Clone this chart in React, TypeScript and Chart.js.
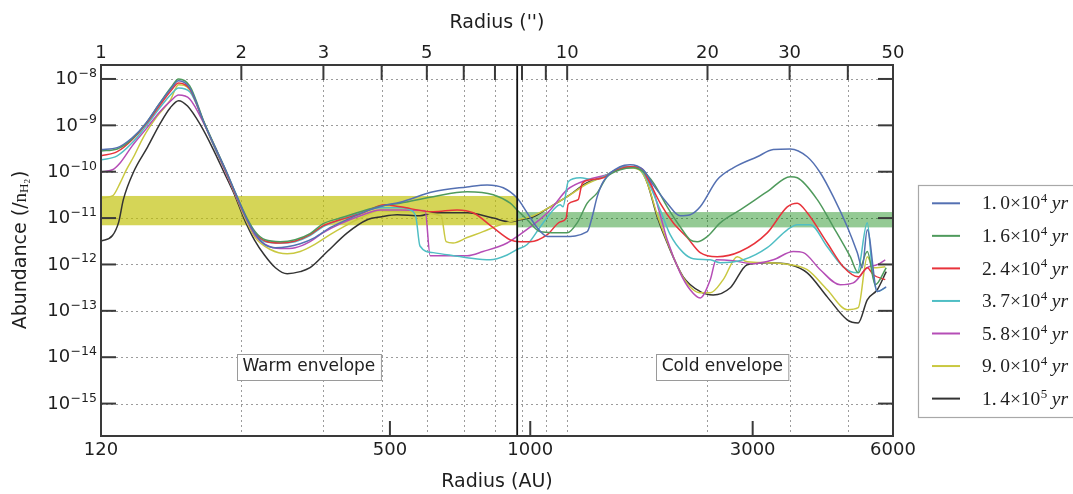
import React, { useEffect, useRef } from 'react';
import { Chart, registerables } from 'chart.js';

Chart.register(...registerables);

const W = 1073;
const H = 494;

// ---------- data (radius in AU, abundance relative to n_H2) ----------
const blueR = [120,130,140,150,160,170,176,186,200,211,223,234,246,257,269,284,301,321,345,372,411,453,488,526,619,732,808,875,937,985,1035,1088,1176,1325,1358,1392,1434,1559,1638,1747,1836,1967,2097,2203,2315,2518,2725,3069,3321,3612,3928,4189,4467,4787,5029,5154,5284,5551,5803];
const blueA = [3.0e-10,3.3e-10,5.4e-10,1.13e-9,2.9e-9,6.4e-9,9.1e-9,6.4e-9,1.08e-9,3.3e-10,1.0e-10,3.2e-11,1.0e-11,4.6e-12,2.7e-12,2.3e-12,2.4e-12,2.8e-12,3.8e-12,6.2e-12,1.0e-11,1.5e-11,1.9e-11,2.2e-11,3.7e-11,4.7e-11,5.2e-11,4.5e-11,2.7e-11,1.3e-11,6.2e-12,4.0e-12,4.0e-12,5.1e-12,1.07e-11,2.9e-11,6.1e-11,1.28e-10,1.41e-10,1.1e-10,5.2e-11,2.1e-11,1.12e-11,1.18e-11,1.75e-11,6.7e-11,1.21e-10,2.1e-10,3.0e-10,3.1e-10,2.1e-10,9.5e-11,2.9e-11,6.5e-12,1.8e-12,8.5e-13,5.6e-12,2.6e-13,3.3e-13];

const greenR = [120,130,140,150,160,170,176,186,200,211,223,234,246,257,270,291,313,337,359,391,432,476,526,619,732,833,906,937,985,1051,1200,1261,1325,1392,1462,1559,1663,1747,1836,1967,2097,2203,2281,2397,2556,2821,3224,3612,3740,4128,4467,4858,5054,5284,5496,5803];
const greenA = [2.8e-10,3.1e-10,5.1e-10,1.13e-9,2.9e-9,6.8e-9,1.0e-8,7.1e-9,1.13e-9,3.4e-10,1.0e-10,3.2e-11,1.07e-11,5.1e-12,3.4e-12,3.1e-12,3.4e-12,4.6e-12,7.5e-12,1.0e-11,1.37e-11,1.8e-11,2.1e-11,2.9e-11,3.7e-11,3.2e-11,2.1e-11,1.5e-11,9.2e-12,5.1e-12,4.8e-12,7.9e-12,2.1e-11,3.5e-11,7.8e-11,1.1e-10,1.21e-10,1.0e-10,5.8e-11,1.75e-11,6.5e-12,3.4e-12,3.1e-12,4.0e-12,7.9e-12,1.5e-11,3.7e-11,7.8e-11,7.4e-11,2.5e-11,6.5e-12,1.47e-12,6.6e-13,1.9e-12,3.65e-13,8.5e-13];

const redR = [120,130,140,150,160,170,176,186,200,211,223,234,246,257,270,291,313,337,359,391,432,488,526,619,697,754,833,906,951,1000,1088,1159,1194,1206,1267,1292,1345,1434,1506,1638,1722,1782,1900,2026,2171,2315,2518,2821,3224,3559,3740,3928,4336,4693,5054,5284,5443,5775];
const redA = [2.2e-10,2.7e-10,4.9e-10,1.08e-9,2.6e-9,5.8e-9,8.2e-9,6.1e-9,1.08e-9,3.3e-10,9.5e-11,3.0e-11,1.0e-11,4.8e-12,3.2e-12,2.9e-12,3.2e-12,4.4e-12,6.8e-12,9.2e-12,1.24e-11,1.94e-11,1.75e-11,1.37e-11,1.5e-11,1.3e-11,6.2e-12,3.4e-12,3.1e-12,3.1e-12,4.4e-12,8.3e-12,1.0e-11,2.0e-11,2.5e-11,5.5e-11,6.7e-11,7.4e-11,1.0e-10,1.28e-10,1.21e-10,7.4e-11,2.1e-11,7.9e-12,3.8e-12,1.8e-12,1.47e-12,1.9e-12,4.8e-12,1.75e-11,2.1e-11,1.3e-11,2.9e-12,8.9e-13,5.4e-13,8.5e-13,6.0e-13,4.7e-13];

const cyanR = [120,130,140,150,160,170,176,186,200,211,223,234,246,257,270,291,313,337,359,391,432,476,526,561,569,580,619,732,820,892,937,985,1051,1120,1159,1176,1206,1280,1365,1434,1559,1663,1747,1900,1996,2129,2237,2433,2556,2864,3224,3559,3740,3987,4336,4693,5029,5284,5416,5551,5775];
const cyanA = [1.8e-10,2.2e-10,4.2e-10,9.7e-10,2.3e-9,4.8e-9,6.4e-9,5.3e-9,1.08e-9,3.1e-10,9.5e-11,3.0e-11,1.0e-11,4.6e-12,3.1e-12,2.9e-12,3.1e-12,4.2e-12,6.5e-12,9.2e-12,1.3e-11,1.67e-11,1.67e-11,1.37e-11,1.0e-11,2.5e-12,1.8e-12,1.4e-12,1.26e-12,1.6e-12,2.1e-12,2.7e-12,6.5e-12,1.5e-11,1.94e-11,1.75e-11,6.1e-11,7.4e-11,6.7e-11,7.8e-11,1.21e-10,1.28e-10,9.5e-11,1.5e-11,4.4e-12,1.8e-12,1.33e-12,1.26e-12,1.09e-12,1.26e-12,2.3e-12,5.6e-12,7.2e-12,7.2e-12,2.4e-12,8.9e-13,6.6e-13,7.9e-12,7.7e-13,2.6e-13,3.15e-13];

const magentaR = [120,127,132,140,150,160,170,176,186,200,211,223,234,243,257,270,291,313,337,359,391,432,476,526,595,610,732,792,892,937,1015,1104,1200,1325,1462,1614,1722,1809,1900,1967,2097,2203,2315,2433,2506,2725,3009,3321,3666,3852,4189,4624,4931,5284,5551,5775];
const magentaA = [1.0e-10,1.1e-10,1.56e-10,3.6e-10,8.4e-10,1.9e-9,3.5e-9,4.5e-9,3.7e-9,1.03e-9,3.1e-10,9.0e-11,2.9e-11,1.24e-11,4.2e-12,2.7e-12,2.2e-12,2.3e-12,3.1e-12,4.8e-12,7.5e-12,1.12e-11,1.5e-11,1.5e-11,1.44e-11,1.54e-12,1.54e-12,1.9e-12,2.9e-12,4.0e-12,7.2e-12,1.5e-11,4.1e-11,6.7e-11,8.6e-11,1.28e-10,1.21e-10,6.1e-11,1.18e-11,3.4e-12,6.6e-13,2.85e-13,1.9e-13,4.7e-13,1.26e-12,1.2e-12,1.04e-12,1.26e-12,1.9e-12,1.8e-12,7.7e-13,3.65e-13,4.0e-13,8.5e-13,9.9e-13,1.26e-12];

const yellowR = [120,127,132,136,141,148,158,169,176,186,200,211,223,234,243,257,277,301,321,345,372,401,432,476,526,644,660,683,732,792,862,937,1015,1104,1200,1325,1434,1559,1638,1722,1782,1872,1967,2129,2315,2433,2594,2780,2921,3224,3612,3928,4336,4787,5054,5284,5443,5775];
const yellowA = [2.7e-11,3.0e-11,5.8e-11,1.1e-10,2.1e-10,5.6e-10,1.52e-9,3.5e-9,7.5e-9,5.8e-9,1.08e-9,3.1e-10,9.0e-11,2.9e-11,1.12e-11,3.8e-12,2.1e-12,1.7e-12,1.9e-12,2.7e-12,4.4e-12,6.8e-12,1.0e-11,1.44e-11,1.37e-11,1.12e-11,3.1e-12,2.9e-12,3.8e-12,5.1e-12,7.2e-12,9.2e-12,1.12e-11,1.75e-11,2.9e-11,5.5e-11,7.8e-11,1.15e-10,1.21e-10,1.05e-10,5.8e-11,1.18e-11,3.1e-12,5.2e-13,2.45e-13,2.45e-13,4.7e-13,1.47e-12,1.14e-12,1.09e-12,9.9e-13,7.7e-13,2.85e-13,1.06e-13,1.17e-13,1.47e-12,8.5e-13,8.9e-13];

const blackR = [120,127,131,134,141,151,161,169,176,184,196,209,220,233,243,256,269,284,301,321,337,367,405,447,480,518,580,619,732,833,906,951,1015,1104,1200,1325,1434,1559,1638,1722,1782,1872,1967,2129,2315,2469,2686,2921,3224,3612,3928,4336,4787,5054,5284,5551,5803];
const blackA = [3.2e-12,4.2e-12,8.3e-12,2.5e-11,1.0e-10,3.4e-10,1.13e-9,2.4e-9,3.4e-9,2.6e-9,1.03e-9,3.0e-10,1.0e-10,2.9e-11,1.0e-11,3.4e-12,1.6e-12,8.5e-13,6.3e-13,7.0e-13,8.5e-13,1.9e-12,4.8e-12,9.2e-12,1.07e-11,1.18e-11,1.12e-11,1.3e-11,1.3e-11,1.0e-11,8.3e-12,9.2e-12,1.07e-11,1.75e-11,2.9e-11,5.8e-11,7.8e-11,1.21e-10,1.28e-10,1.1e-10,5.8e-11,1.07e-11,2.9e-12,5.4e-13,2.6e-13,2.2e-13,3.15e-13,9.9e-13,1.09e-12,9.9e-13,6.6e-13,2.0e-13,6.4e-14,5.5e-14,1.73e-13,2.85e-13,7.0e-13];

const seriesMantissa = ['1.0', '1.6', '2.4', '3.7', '5.8', '9.0', '1.4'];
const seriesExponent = ['4', '4', '4', '4', '4', '4', '5'];
const seriesColors = ['#5470b2', '#4f9a5c', '#e8333b', '#4fbec4', '#b54db6', '#c9c840', '#333333'];
const seriesR = [blueR, greenR, redR, cyanR, magentaR, yellowR, blackR];
const seriesA = [blueA, greenA, redA, cyanA, magentaA, yellowA, blackA];

// axes
const auMin = 120;
const auMax = 6000;
const arcMin = 1;
const arcMax = 50;
const yMin = 2e-16;
const yMax = 2e-8;
const bottomTickValues = [120, 500, 1000, 3000, 6000];
const bottomInnerTicks = [500, 1000, 3000];
const topTickValues = [1, 2, 3, 5, 10, 20, 30, 50];
const topMinorTicks = [4, 6, 7, 8, 9, 40];
const yTickValues = [1e-8, 1e-9, 1e-10, 1e-11, 1e-12, 1e-13, 1e-14, 1e-15];
const yTickExps = ['−8', '−9', '−10', '−11', '−12', '−13', '−14', '−15'];

// observed bands and boundary
const bandFromAU = [120, 937.5];
const bandToAU = [937.5, 6000];
const bandLow = [7e-12, 6.3e-12];
const bandHigh = [3e-11, 1.35e-11];
const bandColors = ['rgba(191,191,0,0.66)', 'rgba(0,128,0,0.42)'];
const boundaryAU = 937.5;

// annotations
const noteTexts = ['Warm envelope', 'Cold envelope'];
const noteAU = [335, 2582];
const noteAbund = [6.3e-15, 6.3e-15];

const SANS = '"DejaVu Sans", sans-serif';
const SERIF = '"Liberation Serif", "DejaVu Serif", serif';

function line(ctx: CanvasRenderingContext2D, x0: number, y0: number, x1: number, y1: number) {
  ctx.beginPath();
  ctx.moveTo(x0, y0);
  ctx.lineTo(x1, y1);
  ctx.stroke();
}

const decorPlugin = {
  id: 'decor',
  beforeDatasetsDraw(chart: any) {
    const ctx: CanvasRenderingContext2D = chart.ctx;
    const a = chart.chartArea;
    const xs = chart.scales.x;
    const xt = chart.scales.xTop;
    const ys = chart.scales.y;
    ctx.save();
    // grid
    ctx.strokeStyle = '#9c9c9c';
    ctx.lineWidth = 1;
    ctx.setLineDash([2, 3]);
    for (const v of yTickValues) {
      const py = Math.round(ys.getPixelForValue(v)) + 0.5;
      line(ctx, a.left, py, a.right, py);
    }
    for (const v of [...topTickValues, ...topMinorTicks]) {
      if (v <= arcMin || v >= arcMax) continue;
      const px = Math.round(xt.getPixelForValue(v)) + 0.5;
      line(ctx, px, a.top, px, a.bottom);
    }
    ctx.setLineDash([]);
    // bands
    for (let i = 0; i < bandColors.length; i++) {
      const x0 = xs.getPixelForValue(bandFromAU[i]);
      const x1 = xs.getPixelForValue(bandToAU[i]);
      const y0 = ys.getPixelForValue(bandHigh[i]);
      const y1 = ys.getPixelForValue(bandLow[i]);
      ctx.fillStyle = bandColors[i];
      ctx.fillRect(x0, y0, x1 - x0, y1 - y0);
    }
    ctx.restore();
  },
  afterDatasetsDraw(chart: any) {
    const ctx: CanvasRenderingContext2D = chart.ctx;
    const a = chart.chartArea;
    const xs = chart.scales.x;
    const xt = chart.scales.xTop;
    const ys = chart.scales.y;
    ctx.save();

    // boundary line
    ctx.strokeStyle = '#111';
    ctx.lineWidth = 1.8;
    const bx = xs.getPixelForValue(boundaryAU);
    line(ctx, bx, a.top, bx, a.bottom);

    // annotation boxes
    ctx.font = `17px ${SANS}`;
    ctx.textAlign = 'center';
    ctx.textBaseline = 'middle';
    for (let i = 0; i < noteTexts.length; i++) {
      const cx = xs.getPixelForValue(noteAU[i]);
      const cy = ys.getPixelForValue(noteAbund[i]);
      const w = ctx.measureText(noteTexts[i]).width + 11;
      const h = 26;
      const x0 = Math.round(cx - w / 2) + 0.5;
      const y0 = Math.round(cy - h / 2) + 0.5;
      ctx.fillStyle = '#fff';
      ctx.fillRect(x0, y0, w, h);
      ctx.strokeStyle = '#9a9a9a';
      ctx.lineWidth = 1;
      ctx.strokeRect(x0, y0, w, h);
      ctx.fillStyle = '#222';
      ctx.fillText(noteTexts[i], cx, cy + 0.5);
    }

    // spines
    ctx.strokeStyle = '#3a3a3a';
    ctx.lineWidth = 2;
    ctx.strokeRect(a.left, a.top, a.right - a.left, a.bottom - a.top);

    // ticks
    const tl = 15;
    for (const v of [...topTickValues, ...topMinorTicks]) {
      if (v <= arcMin || v >= arcMax) continue;
      const px = xt.getPixelForValue(v);
      line(ctx, px, a.top, px, a.top + tl);
    }
    for (const v of bottomInnerTicks) {
      const px = xs.getPixelForValue(v);
      line(ctx, px, a.bottom, px, a.bottom - tl);
    }
    for (const v of yTickValues) {
      const py = ys.getPixelForValue(v);
      line(ctx, a.left, py, a.left + tl, py);
      line(ctx, a.right, py, a.right - tl, py);
    }

    // tick labels
    ctx.fillStyle = '#1e1e1e';
    ctx.font = `18px ${SANS}`;
    ctx.textAlign = 'center';
    ctx.textBaseline = 'middle';
    for (const v of topTickValues) ctx.fillText(String(v), xt.getPixelForValue(v), a.top - 12);
    for (const v of bottomTickValues) ctx.fillText(String(v), xs.getPixelForValue(v), a.bottom + 14);
    const rightEdge = a.left - 4;
    for (let i = 0; i < yTickValues.length; i++) {
      const py = ys.getPixelForValue(yTickValues[i]);
      ctx.font = `12.5px ${SANS}`;
      const ew = ctx.measureText(yTickExps[i]).width;
      ctx.textAlign = 'left';
      ctx.textBaseline = 'alphabetic';
      ctx.fillText(yTickExps[i], rightEdge - ew, py - 2);
      ctx.font = `18px ${SANS}`;
      ctx.textAlign = 'right';
      ctx.textBaseline = 'middle';
      ctx.fillText('10', rightEdge - ew - 0.5, py + 0.5);
    }

    // axis titles
    const cxPlot = (a.left + a.right) / 2;
    ctx.font = `19px ${SANS}`;
    ctx.textAlign = 'center';
    ctx.textBaseline = 'middle';
    ctx.fillText("Radius ('')", cxPlot, 23);
    ctx.fillText('Radius (AU)', cxPlot, 482);

    // y title (rotated)
    ctx.save();
    ctx.translate(21, (a.top + a.bottom) / 2);
    ctx.rotate(-Math.PI / 2);
    ctx.textAlign = 'left';
    ctx.textBaseline = 'middle';
    const parts = [
      { t: 'Abundance (/', f: `19px ${SANS}`, dy: 0 },
      { t: 'n', f: `19px ${SERIF}`, dy: 0 },
      { t: 'H', f: `13px ${SERIF}`, dy: 4 },
      { t: '2', f: `9px ${SERIF}`, dy: 7 },
      { t: ')', f: `19px ${SANS}`, dy: 0 },
    ];
    let total = 0;
    const widths: number[] = [];
    for (const p of parts) {
      ctx.font = p.f;
      const w = ctx.measureText(p.t).width;
      widths.push(w);
      total += w;
    }
    let px = -total / 2;
    parts.forEach((p, i) => {
      ctx.font = p.f;
      ctx.fillText(p.t, px, p.dy);
      px += widths[i] + (i === 3 ? 1 : 0);
    });
    ctx.restore();

    // legend
    const lx = 918.5;
    const ly = 185.5;
    ctx.fillStyle = '#fff';
    ctx.fillRect(lx, ly, 220, 232);
    ctx.strokeStyle = '#a8a8a8';
    ctx.lineWidth = 1.2;
    ctx.strokeRect(lx, ly, 220, 232);
    for (let i = 0; i < seriesColors.length; i++) {
      const ry = 203.3 + i * 32.55;
      ctx.strokeStyle = seriesColors[i];
      ctx.lineWidth = 2;
      line(ctx, 932, ry, 960, ry);
      ctx.fillStyle = '#1e1e1e';
      ctx.textAlign = 'left';
      ctx.textBaseline = 'middle';
      let tx = 982;
      const [ip, dp] = seriesMantissa[i].split('.');
      ctx.font = `19.5px ${SERIF}`;
      ctx.fillText(ip + '.', tx, ry + 1);
      tx += ctx.measureText(ip + '.').width + 3.5;
      ctx.fillText(dp + '×10', tx, ry + 1);
      tx += ctx.measureText(dp + '×10').width + 0.5;
      ctx.font = `13px ${SERIF}`;
      ctx.textBaseline = 'alphabetic';
      ctx.fillText(seriesExponent[i], tx, ry - 1);
      tx += ctx.measureText(seriesExponent[i]).width + 4.5;
      ctx.font = `italic 19.5px ${SERIF}`;
      ctx.textBaseline = 'middle';
      ctx.fillText('yr', tx, ry + 1);
    }

    ctx.restore();
  },
};

export default function App() {
  const ref = useRef<HTMLCanvasElement>(null);

  useEffect(() => {
    if (!ref.current) return;
    const datasets = seriesR.map((rs, i) => ({
      label: `${seriesMantissa[i]}e${seriesExponent[i]} yr`,
      data: rs.slice(0, Math.min(rs.length, seriesA[i].length)).map((r, j) => ({ x: r, y: seriesA[i][j] })),
      borderColor: seriesColors[i],
      backgroundColor: seriesColors[i],
      borderWidth: 1.5,
      pointRadius: 0,
      fill: false,
      tension: 0,
      cubicInterpolationMode: 'monotone' as const,
    }));
    const chart = new Chart(ref.current, {
      type: 'line',
      data: { datasets },
      options: {
        animation: false,
        responsive: false,
        maintainAspectRatio: false,
        devicePixelRatio: 1,
        events: [],
        layout: { padding: { left: 0, right: W - 893, top: 0, bottom: 0 } },
        plugins: { legend: { display: false }, tooltip: { enabled: false } },
        scales: {
          x: {
            type: 'logarithmic',
            position: 'bottom',
            min: auMin,
            max: auMax,
            ticks: { display: false },
            grid: { display: false },
            border: { display: false },
            afterFit: (s: any) => { s.height = 58; },
          },
          xTop: {
            type: 'logarithmic',
            position: 'top',
            min: arcMin,
            max: arcMax,
            ticks: { display: false },
            grid: { display: false },
            border: { display: false },
            afterFit: (s: any) => { s.height = 65; },
          },
          y: {
            type: 'logarithmic',
            position: 'left',
            min: yMin,
            max: yMax,
            ticks: { display: false },
            grid: { display: false },
            border: { display: false },
            afterFit: (s: any) => { s.width = 101; },
          },
        },
      } as any,
      plugins: [decorPlugin],
    });
    return () => chart.destroy();
  }, []);

  return (
    <div style={{ position: 'fixed', left: 0, top: 0, width: W, height: H, background: '#fff' }}>
      <canvas ref={ref} width={W} height={H} style={{ width: W, height: H, display: 'block' }} />
    </div>
  );
}
